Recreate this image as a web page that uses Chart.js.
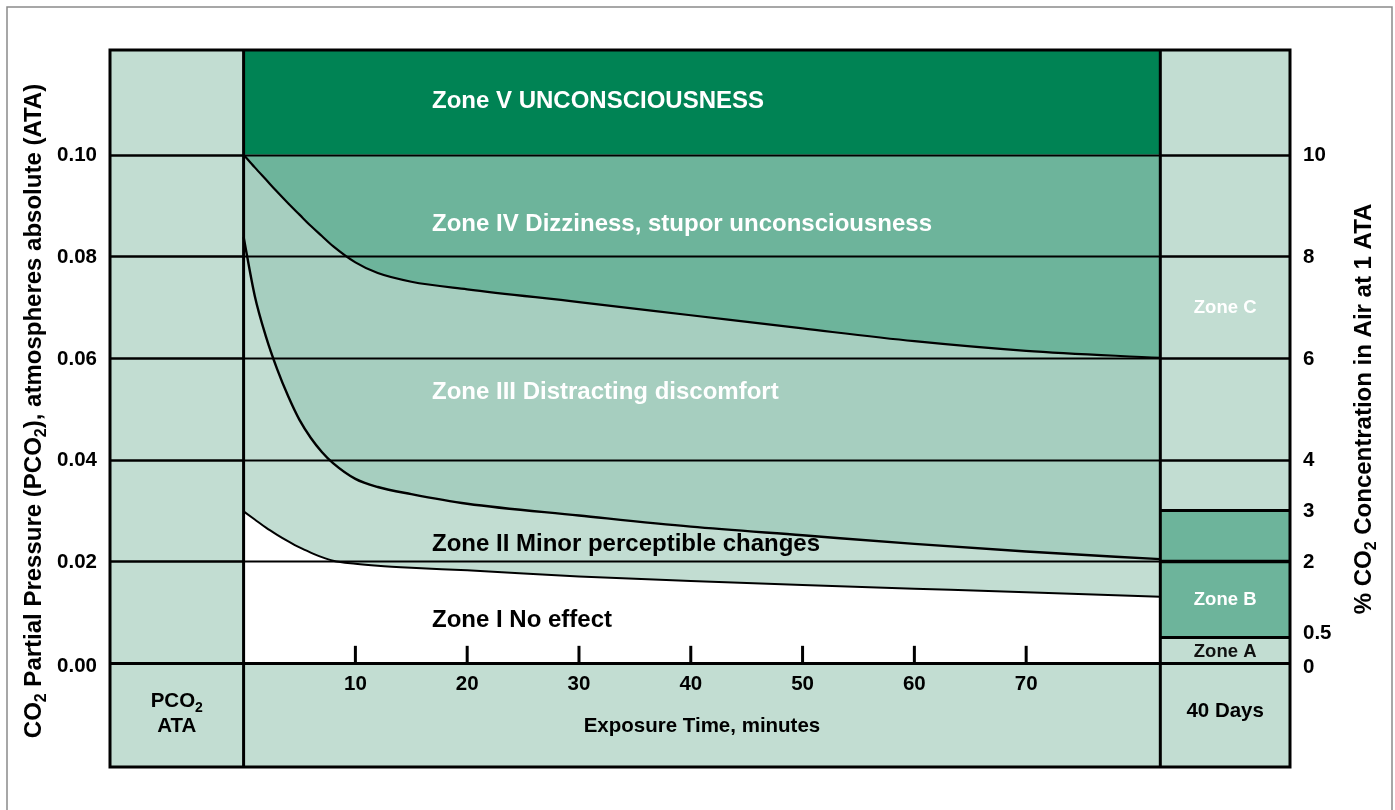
<!DOCTYPE html>
<html>
<head>
<meta charset="utf-8">
<title>CO2 exposure zones</title>
<script src="https://cdn.jsdelivr.net/npm/chart.js@4.4.1/dist/chart.umd.min.js"></script>
<style>
  html, body { margin: 0; padding: 0; background: #fff; }
  canvas { display: block; }
</style>
</head>
<body>
<canvas id="co2Chart" width="1395" height="810"></canvas>
<script>
// exposure time in minutes, and the lower edge of each zone in ATA
var exposureMin  = [0, 1, 2, 3, 4, 5, 6, 7, 8, 10, 12, 15, 20, 30, 40, 50, 60, 70, 82];
var zoneIVLower  = [0.1000, 0.0975, 0.0951, 0.0927, 0.0904, 0.0882, 0.0860, 0.0840, 0.0820, 0.0788, 0.0767, 0.0750, 0.0735, 0.0710, 0.0684, 0.0658, 0.0633, 0.0614, 0.0600];
var zoneIIILower = [0.0838, 0.0722, 0.0642, 0.0578, 0.0524, 0.0478, 0.0443, 0.0415, 0.0393, 0.0362, 0.0346, 0.0332, 0.0313, 0.0290, 0.0268, 0.0251, 0.0234, 0.0219, 0.0204];
var zoneIILower  = [0.0298, 0.0282, 0.0266, 0.0252, 0.0239, 0.0227, 0.0217, 0.0208, 0.0201, 0.0195, 0.0191, 0.0187, 0.0182, 0.0170, 0.0161, 0.0153, 0.0146, 0.0139, 0.0130];
var zoneVLower = 0.10;

var ataTicks    = [0, 0.02, 0.04, 0.06, 0.08, 0.10];
var ataLabels   = ['0.00', '0.02', '0.04', '0.06', '0.08', '0.10'];
var pctTicks    = [0, 0.5, 2, 3, 4, 6, 8, 10];
var minuteTicks = [10, 20, 30, 40, 50, 60, 70];

// 40 day exposure zones (lower edges, ATA)
var dayZoneLabels = ['Zone A', 'Zone B', 'Zone C'];
var dayZoneLower  = [0, 0.005, 0.03];

var zoneNames = [
  'Zone V UNCONSCIOUSNESS',
  'Zone IV Dizziness, stupor unconsciousness',
  'Zone III Distracting discomfort',
  'Zone II Minor perceptible changes',
  'Zone I No effect'
];

var DARK = '#008354';
var MID = '#6db49b';
var PALE = '#a6cebf';
var LIGHT = '#c2ddd2';
var FONT = '"Liberation Sans", Arial, sans-serif';
var END = exposureMin[exposureMin.length - 1];

function pts(vals) {
  return exposureMin.map(function(t, i) { return { x: t, y: vals[i] }; });
}

// text with subscripts, centred on cx, caps centred on cy
function richText(ctx, parts, cx, cy, size, color) {
  var big = 'bold ' + size + 'px ' + FONT;
  var small = 'bold ' + Math.round(size * 0.68) + 'px ' + FONT;
  var total = 0;
  parts.forEach(function(p) {
    ctx.font = p[1] ? small : big;
    total += ctx.measureText(p[0]).width;
  });
  var xx = cx - total / 2;
  var base = cy + size * 0.36;
  ctx.fillStyle = color;
  ctx.textAlign = 'left';
  ctx.textBaseline = 'alphabetic';
  parts.forEach(function(p) {
    ctx.font = p[1] ? small : big;
    ctx.fillText(p[0], xx, p[1] ? base + size * 0.22 : base);
    xx += ctx.measureText(p[0]).width;
  });
}

var panels = {
  id: 'panels',
  beforeDatasetsDraw: function(chart) {
    var ctx = chart.ctx, a = chart.chartArea, x = chart.scales.x, y = chart.scales.y;
    var x0 = x.getPixelForValue(0), x1 = x.getPixelForValue(END), y0 = y.getPixelForValue(0);
    ctx.save();
    ctx.fillStyle = LIGHT;
    ctx.fillRect(a.left, a.top, x0 - a.left, a.bottom - a.top);
    ctx.fillRect(x1, a.top, a.right - x1, a.bottom - a.top);
    ctx.fillRect(a.left, y0, a.right - a.left, a.bottom - y0);
    // zone B of the 40 day column
    ctx.fillStyle = MID;
    var yb = y.getPixelForValue(dayZoneLower[1]), yc = y.getPixelForValue(dayZoneLower[2]);
    ctx.fillRect(x1, yc, a.right - x1, yb - yc);
    // zone V
    ctx.fillStyle = DARK;
    ctx.fillRect(x0, a.top, x1 - x0, y.getPixelForValue(zoneVLower) - a.top);
    ctx.restore();
  }
};

var overlay = {
  id: 'overlay',
  afterDatasetsDraw: function(chart) {
    var ctx = chart.ctx, a = chart.chartArea, x = chart.scales.x, y = chart.scales.y;
    var x0 = x.getPixelForValue(0), x1 = x.getPixelForValue(END), y0 = y.getPixelForValue(0);
    ctx.save();
    ctx.strokeStyle = '#000';
    ctx.lineCap = 'butt';

    function hline(v, from, to, w) {
      var yy = Math.round(y.getPixelForValue(v)) + 0.5;
      ctx.lineWidth = w;
      ctx.beginPath(); ctx.moveTo(from, yy); ctx.lineTo(to, yy); ctx.stroke();
    }
    // grid lines
    ataTicks.forEach(function(v) {
      if (v === 0) return;
      hline(v, a.left, x0, 2.6);
      hline(v, x0, x1, 2);
      hline(v, x1, a.right, 2.6);
    });
    hline(0.02, x1, a.right, 3.4);
    hline(dayZoneLower[1], x1, a.right, 3);
    hline(dayZoneLower[2], x1, a.right, 3);
    hline(0, a.left, a.right, 3);

    // column separators and frame
    ctx.lineWidth = 3;
    [x0, x1].forEach(function(xx) {
      ctx.beginPath(); ctx.moveTo(xx, a.top); ctx.lineTo(xx, a.bottom); ctx.stroke();
    });
    ctx.strokeRect(a.left, a.top, a.right - a.left, a.bottom - a.top);

    // minute ticks
    ctx.lineWidth = 3;
    minuteTicks.forEach(function(t) {
      var xx = x.getPixelForValue(t);
      ctx.beginPath(); ctx.moveTo(xx, y0); ctx.lineTo(xx, y0 - 17); ctx.stroke();
    });

    // tick labels
    ctx.fillStyle = '#000';
    ctx.font = 'bold 20.5px ' + FONT;
    ctx.textBaseline = 'middle';
    ctx.textAlign = 'right';
    ataTicks.forEach(function(v, i) {
      ctx.fillText(ataLabels[i], 97, y.getPixelForValue(v) + (v === 0 ? 4 : 1));
    });
    ctx.textAlign = 'left';
    pctTicks.forEach(function(p) {
      var off = p === 0 ? 5 : (p === 0.5 ? -4 : 1);
      ctx.fillText(String(p), 1303, y.getPixelForValue(p / 100) + off);
    });
    ctx.textAlign = 'center';
    minuteTicks.forEach(function(t) {
      ctx.fillText(String(t), x.getPixelForValue(t), y0 + 22);
    });
    ctx.fillText('Exposure Time, minutes', (x0 + x1) / 2, y0 + 64);
    var lx = (a.left + x0) / 2, rx = (x1 + a.right) / 2;
    ctx.fillText('40 Days', rx, y0 + 49);
    ctx.fillText('ATA', lx, y0 + 64);
    richText(ctx, [['PCO', false], ['2', true]], lx, y0 + 37, 20.5, '#000');

    // zone names
    ctx.textAlign = 'left';
    ctx.textBaseline = 'middle';
    ctx.font = 'bold 24px ' + FONT;
    var zx = x.getPixelForValue(16.85);
    var zy = [0.1104, 0.0862, 0.0533, 0.0234, 0.0084];
    zoneNames.forEach(function(n, i) {
      ctx.fillStyle = i < 3 ? '#fff' : '#000';
      ctx.fillText(n, zx, y.getPixelForValue(zy[i]));
    });
    ctx.textAlign = 'center';
    ctx.font = 'bold 18.5px ' + FONT;
    var dy = [0.0022, 0.0124, 0.0699];
    dayZoneLabels.forEach(function(n, i) {
      ctx.fillStyle = i === 0 ? '#111' : '#fff';
      ctx.fillText(n, rx, y.getPixelForValue(dy[i]));
    });

    // axis titles
    ctx.save();
    ctx.translate(32, 411);
    ctx.rotate(-Math.PI / 2);
    richText(ctx, [['CO', false], ['2', true], [' Partial Pressure (PCO', false], ['2', true], ['), atmospheres absolute (ATA)', false]], 0, 0, 24, '#000');
    ctx.restore();
    ctx.save();
    ctx.translate(1362, 409);
    ctx.rotate(-Math.PI / 2);
    richText(ctx, [['% CO', false], ['2', true], [' Concentration in Air at 1 ATA', false]], 0, 0, 24, '#000');
    ctx.restore();

    // outer border
    ctx.strokeStyle = '#8a8a8a';
    ctx.lineWidth = 1.5;
    ctx.strokeRect(7, 7, 1385, 810);
    ctx.restore();
  }
};

new Chart(document.getElementById('co2Chart'), {
  type: 'line',
  data: {
    datasets: [{
      label: 'Zone IV',
      data: pts(zoneIVLower),
      borderColor: '#000',
      borderWidth: 2.2,
      backgroundColor: MID,
      fill: { value: zoneVLower },
      pointRadius: 0,
      cubicInterpolationMode: 'monotone'
    }, {
      label: 'Zone III',
      data: pts(zoneIIILower),
      borderColor: '#000',
      borderWidth: 2.4,
      backgroundColor: PALE,
      fill: '-1',
      pointRadius: 0,
      cubicInterpolationMode: 'monotone'
    }, {
      label: 'Zone II',
      data: pts(zoneIILower),
      borderColor: '#000',
      borderWidth: 2,
      backgroundColor: LIGHT,
      fill: '-1',
      pointRadius: 0,
      cubicInterpolationMode: 'monotone'
    }]
  },
  options: {
    responsive: false,
    devicePixelRatio: 1,
    animation: false,
    events: [],
    layout: { padding: { left: 110, top: 50, right: 105, bottom: 43 } },
    scales: {
      x: { type: 'linear', min: -11.95, max: 93.6, display: false },
      y: { min: -0.0205, max: 0.1206, display: false }
    },
    plugins: {
      legend: { display: false },
      tooltip: { enabled: false }
    }
  },
  plugins: [panels, overlay]
});
</script>
</body>
</html>
